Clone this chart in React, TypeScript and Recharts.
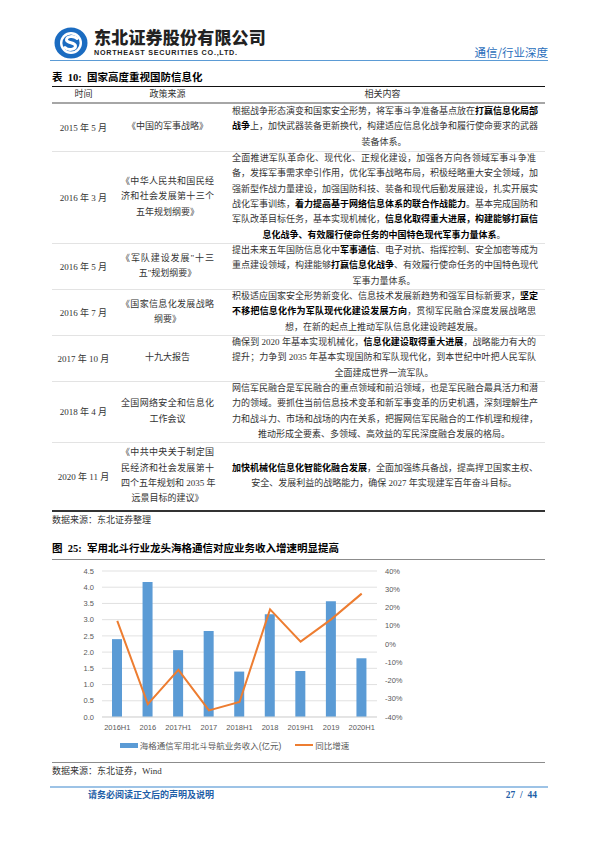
import React from 'react';
import { ComposedChart, Bar, Line, XAxis, YAxis, CartesianGrid, Legend } from 'recharts';

// chart data
const categories = ['2016H1', '2016', '2017H1', '2017', '2018H1', '2018', '2019H1', '2019', '2020H1'];
const revenue = [2.4, 4.16, 2.06, 2.65, 1.4, 3.17, 1.42, 3.57, 1.81];
const growth = [12.7, -32.9, -14.2, -36.4, -31.8, 19.0, 1.3, 13.5, 27.6];
const leftTicks = [0, 0.5, 1, 1.5, 2, 2.5, 3, 3.5, 4, 4.5];
const rightTicks = [-40, -30, -20, -10, 0, 10, 20, 30, 40];
const barName = '海格通信军用北斗导航业务收入(亿元)';
const lineName = '同比增速';

const chartData = categories.map((c, i) => ({ name: c, revenue: revenue[i], growth: growth[i] }));

// table text, one string per printed line, **bold**
const tableRows = [
  {
    time: '2015 年 5 月',
    source: ['《中国的军事战略》'],
    content: [
      '根据战争形态演变和国家安全形势，将军事斗争准备基点放在**打赢信息化局部**',
      '**战争**上，加快武器装备更新换代，构建适应信息化战争和履行使命要求的武器',
      '装备体系。',
    ],
    top: 103, height: 48,
  },
  {
    time: '2016 年 3 月',
    source: ['《中华人民共和国民经', '济和社会发展第十三个', '五年规划纲要》'],
    content: [
      '全面推进军队革命化、现代化、正规化建设，加强各方向各领域军事斗争准',
      '备，发挥军事需求牵引作用，优化军事战略布局，积极经略重大安全领域，加',
      '强新型作战力量建设，加强国防科技、装备和现代后勤发展建设，扎实开展实',
      '战化军事训练，**着力提高基于网络信息体系的联合作战能力**。基本完成国防和',
      '军队改革目标任务，基本实现机械化，**信息化取得重大进展，构建能够打赢信**',
      '**息化战争、有效履行使命任务的中国特色现代军事力量体系**。',
    ],
    top: 151, height: 92,
  },
  {
    time: '2016 年 5 月',
    source: ['《军队建设发展"十三', '五"规划纲要》'],
    content: [
      '提出未来五年国防信息化中**军事通信**、电子对抗、指挥控制、安全加密等成为',
      '重点建设领域，构建能够**打赢信息化战争**、有效履行使命任务的中国特色现代',
      '军事力量体系。',
    ],
    top: 243, height: 46,
  },
  {
    time: '2016 年 7 月',
    source: ['《国家信息化发展战略', '纲要》'],
    content: [
      '积极适应国家安全形势新变化、信息技术发展新趋势和强军目标新要求，**坚定**',
      '**不移把信息化作为军队现代化建设发展方向**，贯彻军民融合深度发展战略思',
      '想，在新的起点上推动军队信息化建设跨越发展。',
    ],
    top: 289, height: 46,
  },
  {
    time: '2017 年 10 月',
    source: ['十九大报告'],
    content: [
      '确保到 2020 年基本实现机械化，**信息化建设取得重大进展**，战略能力有大的',
      '提升；力争到 2035 年基本实现国防和军队现代化，到本世纪中叶把人民军队',
      '全面建成世界一流军队。',
    ],
    top: 335, height: 46,
  },
  {
    time: '2018 年 4 月',
    source: ['全国网络安全和信息化', '工作会议'],
    content: [
      '网信军民融合是军民融合的重点领域和前沿领域，也是军民融合最具活力和潜',
      '力的领域。要抓住当前信息技术变革和新军事变革的历史机遇，深刻理解生产',
      '力和战斗力、市场和战场的内在关系，把握网信军民融合的工作机理和规律，',
      '推动形成全要素、多领域、高效益的军民深度融合发展的格局。',
    ],
    top: 381, height: 61,
  },
  {
    time: '2020 年 11 月',
    source: ['《中共中央关于制定国', '民经济和社会发展第十', '四个五年规划和 2035 年', '远景目标的建议》'],
    content: [
      '**加快机械化信息化智能化融合发展**，全面加强练兵备战，提高捍卫国家主权、',
      '安全、发展利益的战略能力，确保 2027 年实现建军百年奋斗目标。',
    ],
    top: 442, height: 68,
  },
];

const SERIF = "'Liberation Serif', 'Noto Sans CJK SC', serif";
const SANS = "'Liberation Sans', 'Noto Sans CJK SC', sans-serif";
const LH = 15.3;

const Rich = ({ text }: { text: string }) => (
  <>
    {text.split('**').map((p, i) =>
      i % 2 ? <b key={i} style={{ fontWeight: 700, color: '#000' }}>{p}</b> : <span key={i}>{p}</span>
    )}
  </>
);

const Lines = ({ lines }: { lines: string[] }) => (
  <>
    {lines.map((l, i) => {
      const last = i === lines.length - 1;
      const align = last ? 'center' : 'justify';
      return (
        <div key={i} style={{ height: LH, lineHeight: LH + 'px', whiteSpace: 'nowrap', textAlign: align as any, textAlignLast: align as any }}>
          <Rich text={l} />
        </div>
      );
    })}
  </>
);

const abs = (left: number, top: number, extra: React.CSSProperties = {}): React.CSSProperties => ({ position: 'absolute', left, top, ...extra });

const Logo = () => (
  <svg style={abs(53, 26)} width={36} height={34} viewBox="0 0 36 34">
    <ellipse cx={18} cy={17} rx={16.5} ry={15.5} fill="#1b6cc1" />
    <circle cx={18} cy={17} r={11} fill="#fff" />
    <circle cx={18} cy={17} r={8.6} fill="#1b6cc1" />
    <path d="M24 12.5 C21 9.5 13 10 13.5 14 C14 17.5 22.5 16 22.5 20 C22.5 24 15 24.5 12 21.5" fill="none" stroke="#fff" strokeWidth={3} strokeLinecap="round" />
  </svg>
);

const renderLegend = () => (
  <div style={{ display: 'flex', justifyContent: 'center', alignItems: 'center', paddingTop: 2, fontFamily: SANS, fontSize: 8.5, color: '#595959', marginLeft: 12 }}>
    <span style={{ display: 'inline-block', width: 18, height: 5, background: '#5b9bd5', marginRight: 2 }} />
    <span style={{ marginRight: 14 }}>{barName}</span>
    <span style={{ display: 'inline-block', width: 18, height: 2, background: '#ed7d31', marginRight: 2 }} />
    <span>{lineName}</span>
  </div>
);

export default function App() {
  const tickStyle = { fill: '#595959', fontSize: 7.5, fontFamily: SANS };
  return (
    <div style={{ position: 'absolute', left: 0, top: 0, width: 596, height: 842, background: '#fff', fontFamily: SERIF, color: '#333', overflow: 'hidden' }}>
      {/* header */}
      <Logo />
      <div style={abs(94, 27, { fontFamily: "'Noto Sans CJK SC'", fontWeight: 900, fontSize: 17, color: '#222', letterSpacing: 0.2, lineHeight: '20px' })}>东北证券股份有限公司</div>
      <div style={abs(94, 48, { fontFamily: "'Liberation Sans'", fontWeight: 700, fontSize: 7.2, color: '#222', letterSpacing: 0.75, lineHeight: '9px' })}>NORTHEAST SECURITIES CO.,LTD.</div>
      <div style={abs(440, 44, { width: 108, textAlign: 'right', fontFamily: "'Noto Sans CJK SC'", fontSize: 11.5, color: '#2a6ebb', lineHeight: '16px' })}>通信/行业深度</div>
      <div style={abs(50, 59.5, { width: 498, height: 1.5, background: '#5b9bd5' })} />

      {/* table */}
      <div style={abs(52, 71, { fontFamily: "'Liberation Serif', 'Noto Sans CJK SC'", fontWeight: 700, fontSize: 10.5, color: '#000', lineHeight: '14px', whiteSpace: 'pre' })}>表  10:  国家高度重视国防信息化</div>
      <div style={abs(52, 85.5, { width: 493, height: 1.5, background: '#111' })} />
      {[['时间', 52, 63], ['政策来源', 115, 105], ['相关内容', 220, 325]].map(([t, l, w]) => (
        <div key={t as string} style={abs(l as number, 87, { width: w as number, textAlign: 'center', fontSize: 9, lineHeight: '15px' })}>{t}</div>
      ))}
      <div style={abs(52, 101.5, { width: 493, height: 2, background: '#a6a6a6' })} />
      {tableRows.map((r, ri) => (
        <React.Fragment key={ri}>
          {ri > 0 && <div style={abs(52, r.top, { width: 493, height: 1, background: '#e3e3e3' })} />}
          <div style={abs(52, r.top, { width: 63, height: r.height, display: 'flex', alignItems: 'center', justifyContent: 'center', fontSize: 9 })}>{r.time}</div>
          <div style={abs(121, r.top, { width: 93, height: r.height, display: 'flex', flexDirection: 'column', justifyContent: 'center', fontSize: 9 })}>
            <Lines lines={r.source} />
          </div>
          <div style={abs(232, r.top, { width: 304, height: r.height, display: 'flex', flexDirection: 'column', justifyContent: 'center', fontSize: 9 })}>
            <Lines lines={r.content} />
          </div>
        </React.Fragment>
      ))}
      <div style={abs(52, 509.5, { width: 493, height: 2, background: '#333' })} />
      <div style={abs(52, 513, { fontSize: 9, lineHeight: '14px' })}>数据来源：东北证券整理</div>

      {/* chart */}
      <div style={abs(52, 542, { fontFamily: "'Liberation Serif', 'Noto Sans CJK SC'", fontWeight: 700, fontSize: 10.5, color: '#000', lineHeight: '14px', whiteSpace: 'pre' })}>图  25:  军用北斗行业龙头海格通信对应业务收入增速明显提高</div>
      <div style={abs(52, 558.5, { width: 493, height: 1, background: '#8c8c8c' })} />
      <div style={abs(40, 562)}>
        <ComposedChart width={380} height={197} data={chartData} margin={{ top: 9, right: 3, left: 0, bottom: 0 }}>
          <CartesianGrid yAxisId="left" vertical={false} stroke="#d9d9d9" strokeWidth={0.8} />
          <XAxis dataKey="name" interval={0} height={20} tickLine={false} axisLine={{ stroke: '#d9d9d9' }} tick={tickStyle} />
          <YAxis yAxisId="left" width={62} domain={[0, 4.5]} ticks={leftTicks} interval={0} tickFormatter={(v: number) => v.toFixed(1)} axisLine={false} tickLine={false} tick={tickStyle} />
          <YAxis yAxisId="right" orientation="right" width={40} domain={[-40, 40]} ticks={rightTicks} interval={0} tickFormatter={(v: number) => v + '%'} axisLine={false} tickLine={false} tick={tickStyle} />
          <Legend verticalAlign="bottom" height={22} content={renderLegend} wrapperStyle={{ height: 22 }} />
          <Bar yAxisId="left" dataKey="revenue" name={barName} fill="#5b9bd5" barSize={10} isAnimationActive={false} />
          <Line yAxisId="right" dataKey="growth" name={lineName} type="linear" stroke="#ed7d31" strokeWidth={2} dot={false} activeDot={false} isAnimationActive={false} />
        </ComposedChart>
      </div>
      <div style={abs(52, 762, { width: 493, height: 1, background: '#8c8c8c' })} />
      <div style={abs(52, 764, { fontSize: 9, lineHeight: '14px' })}>数据来源：东北证券，Wind</div>

      {/* footer */}
      <div style={abs(50, 786, { width: 498, height: 2, background: '#9dc3e6' })} />
      <div style={abs(88, 788, { fontFamily: "'Noto Sans CJK SC'", fontWeight: 700, fontSize: 9, color: '#1f5fa8', lineHeight: '14px', letterSpacing: 0 })}>请务必阅读正文后的声明及说明</div>
      <div style={abs(490, 788, { width: 47, textAlign: 'right', fontFamily: "'Liberation Serif'", fontWeight: 700, fontSize: 9.5, color: '#1f5fa8', lineHeight: '14px', whiteSpace: 'pre' })}>27  /  44</div>
    </div>
  );
}
